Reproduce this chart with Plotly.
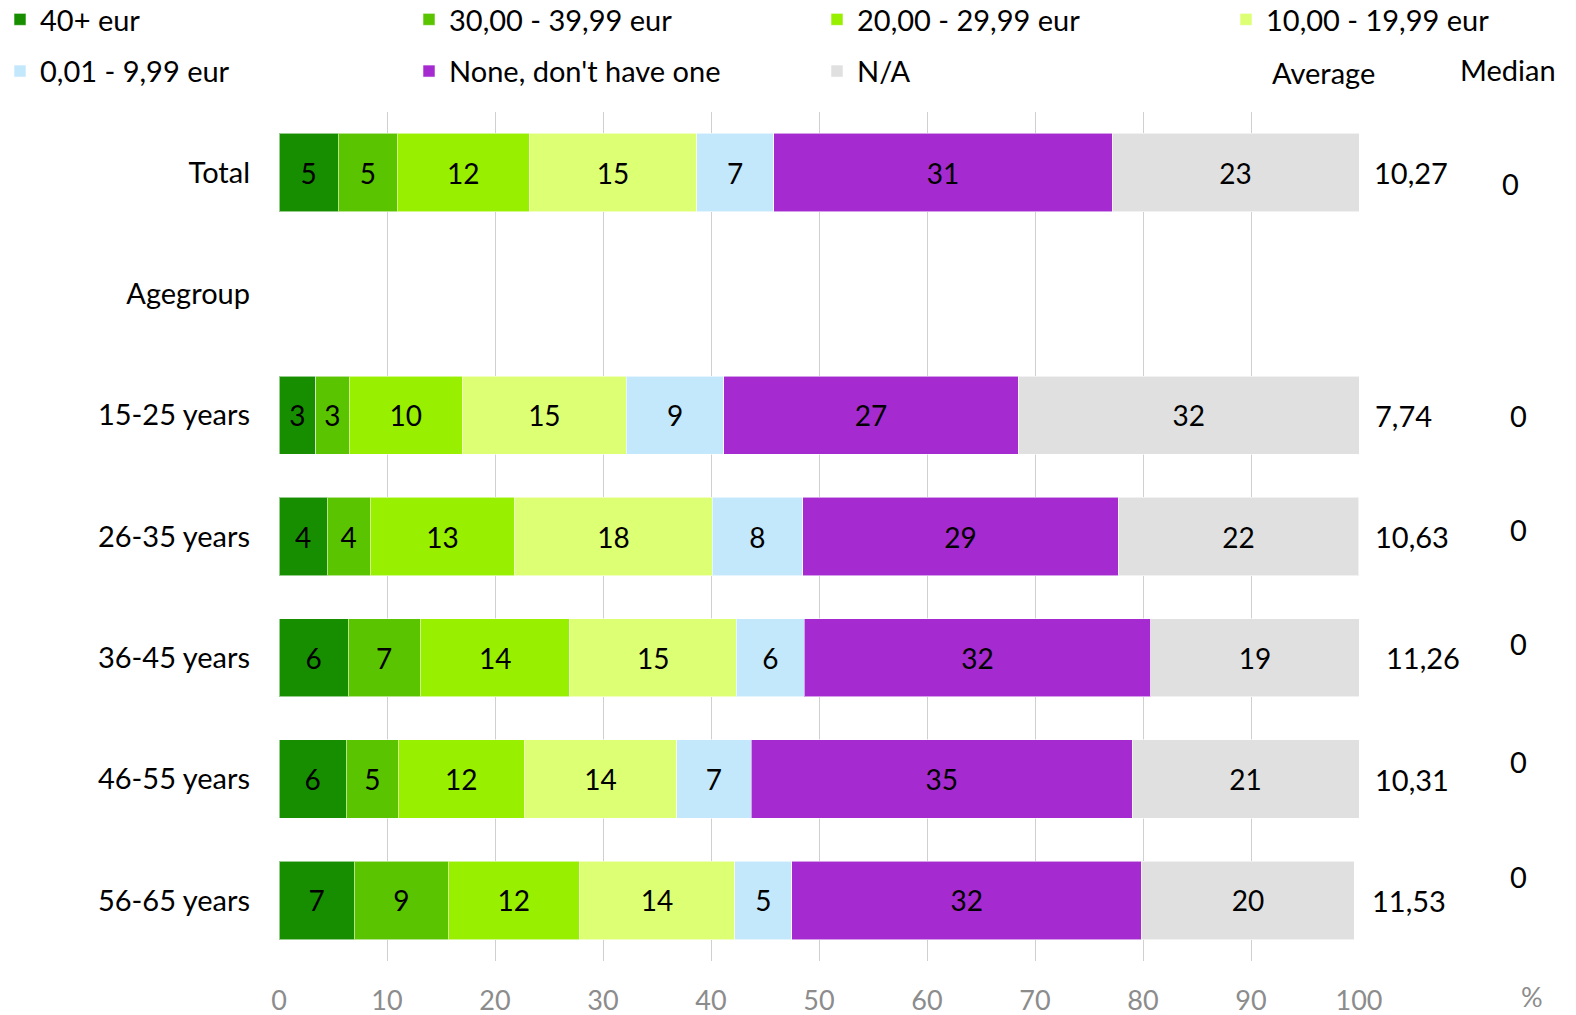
import plotly.graph_objects as go

# Rows of the chart (top to bottom); "Agegroup" is an empty header row
categories = ["Total", "Agegroup", "15-25 years", "26-35 years",
              "36-45 years", "46-55 years", "56-65 years"]

series_names = ["40+ eur", "30,00 - 39,99 eur", "20,00 - 29,99 eur",
                "10,00 - 19,99 eur", "0,01 - 9,99 eur",
                "None, don't have one", "N/A"]

# Shares in percent, one list per series, aligned with `categories`
s_40plus   = [5.48, None, 3.38, 4.46, 6.40, 6.24, 6.97]
s_30_39    = [5.48, None, 3.12, 3.98, 6.69, 4.81, 8.70]
s_20_29    = [12.22, None, 10.47, 13.38, 13.85, 11.66, 12.13]
s_10_19    = [15.48, None, 15.20, 18.28, 15.42, 14.11, 14.40]
s_001_999  = [7.14, None, 9.01, 8.40, 6.27, 6.91, 5.29]
s_none     = [31.34, None, 27.27, 29.19, 32.11, 35.27, 32.36]
s_na       = [22.86, None, 31.55, 22.29, 19.26, 21.00, 19.73]

series_values = [s_40plus, s_30_39, s_20_29, s_10_19, s_001_999, s_none, s_na]

colors = ["#168E00", "#5BC400", "#99EF00", "#DDFF73", "#C3E8FB", "#A52ACF", "#E0E0E0"]

# Which of the four legend columns each series goes in
legend_ids = ["legend", "legend2", "legend3", "legend4", "legend", "legend2", "legend3"]

# Summary columns on the right
average_labels = ["10,27", "", "7,74", "10,63", "11,26", "10,31", "11,53"]
median_labels = ["0", "", "0", "0", "0", "0", "0"]

x_ticks = list(range(0, 101, 10))

W, H = 1576, 1015
M_L, M_R, M_T, M_B = 279, 217, 112, 54
PLOT_W = W - M_L - M_R
PLOT_H = H - M_T - M_B
FONT = "Lato, 'Open Sans', sans-serif"
FS = 29        # category, legend and summary text
FS_BAR = 28    # values inside the bars
FS_TICK = 27   # x-axis tick labels


def paper_x(px):
    return (px - M_L) / PLOT_W


def paper_y(py):
    return 1 - (py - M_T) / PLOT_H


fig = go.Figure()
for name, vals, col, lg in zip(series_names, series_values, colors, legend_ids):
    fig.add_trace(go.Bar(
        y=categories, x=vals, name=name, orientation="h",
        marker=dict(color=col, line=dict(color="rgba(255,255,255,0.55)", width=1)),
        texttemplate="%{x:.0f}", textposition="inside", insidetextanchor="middle",
        textangle=0, textfont=dict(color="black", size=FS_BAR, family=FONT),
        constraintext="none", legend=lg, legendgroup=name,
        hoverinfo="skip",
    ))

legend_common = dict(
    orientation="v", xanchor="left", yanchor="top",
    font=dict(size=FS, family=FONT, color="black"),
    bgcolor="rgba(0,0,0,0)", tracegroupgap=11, traceorder="grouped",
)
legend_top = paper_y(-6)
fig.update_layout(
    legend=dict(x=paper_x(0), y=legend_top, **legend_common),
    legend2=dict(x=paper_x(409), y=legend_top, **legend_common),
    legend3=dict(x=paper_x(817), y=legend_top, **legend_common),
    legend4=dict(x=paper_x(1226), y=legend_top, **legend_common),
)

annotations = []
avg_xshift = [-3, 0, -2, -2, 9, -2, -5]
for cat, lab, dx in zip(categories, average_labels, avg_xshift):
    if lab:
        annotations.append(dict(
            xref="paper", yref="y", x=paper_x(1375), y=cat, text=lab,
            xanchor="left", yanchor="middle", showarrow=False, xshift=dx,
            font=dict(size=FS, family=FONT, color="black"),
        ))
med_shift = [(-8, -11), (0, 0), (0, 0), (0, 7), (0, 14), (0, 18), (0, 24)]
for cat, lab, (dx, dy) in zip(categories, median_labels, med_shift):
    if lab:
        annotations.append(dict(
            xref="paper", yref="y", x=paper_x(1518), y=cat, text=lab,
            xanchor="center", yanchor="middle", showarrow=False,
            xshift=dx, yshift=dy,
            font=dict(size=FS, family=FONT, color="black"),
        ))
annotations += [
    dict(xref="paper", yref="paper", x=paper_x(1323), y=paper_y(72), text="Average",
         xanchor="center", yanchor="middle", showarrow=False,
         font=dict(size=FS, family=FONT, color="black")),
    dict(xref="paper", yref="paper", x=paper_x(1508), y=paper_y(69), text="Median",
         xanchor="center", yanchor="middle", showarrow=False,
         font=dict(size=FS, family=FONT, color="black")),
    dict(xref="paper", yref="paper", x=paper_x(1532), y=paper_y(996), text="%",
         xanchor="center", yanchor="middle", showarrow=False,
         font=dict(size=FS_TICK, family=FONT, color="#8C8C8C")),
]

fig.update_layout(
    width=W, height=H, barmode="stack", bargap=0.354,
    margin=dict(l=M_L, r=M_R, t=M_T, b=M_B, autoexpand=False),
    paper_bgcolor="white", plot_bgcolor="white",
    font=dict(family=FONT, size=FS, color="black"),
    annotations=annotations,
    xaxis=dict(
        range=[0, 100], tickvals=x_ticks, ticktext=[str(v) for v in x_ticks],
        showgrid=True, gridcolor="#D0D0D0", gridwidth=1, zeroline=False,
        showline=False, ticks="", ticklabelstandoff=21,
        tickfont=dict(size=FS_TICK, family=FONT, color="#8C8C8C"),
        fixedrange=True,
    ),
    yaxis=dict(
        categoryorder="array", categoryarray=categories, type="category",
        range=[len(categories) - 0.5, -0.5], showgrid=False, zeroline=False,
        showline=False, ticks="", ticklabelstandoff=28,
        tickfont=dict(size=FS, family=FONT, color="black"),
        fixedrange=True,
    ),
)

fig.write_html("out.html")
